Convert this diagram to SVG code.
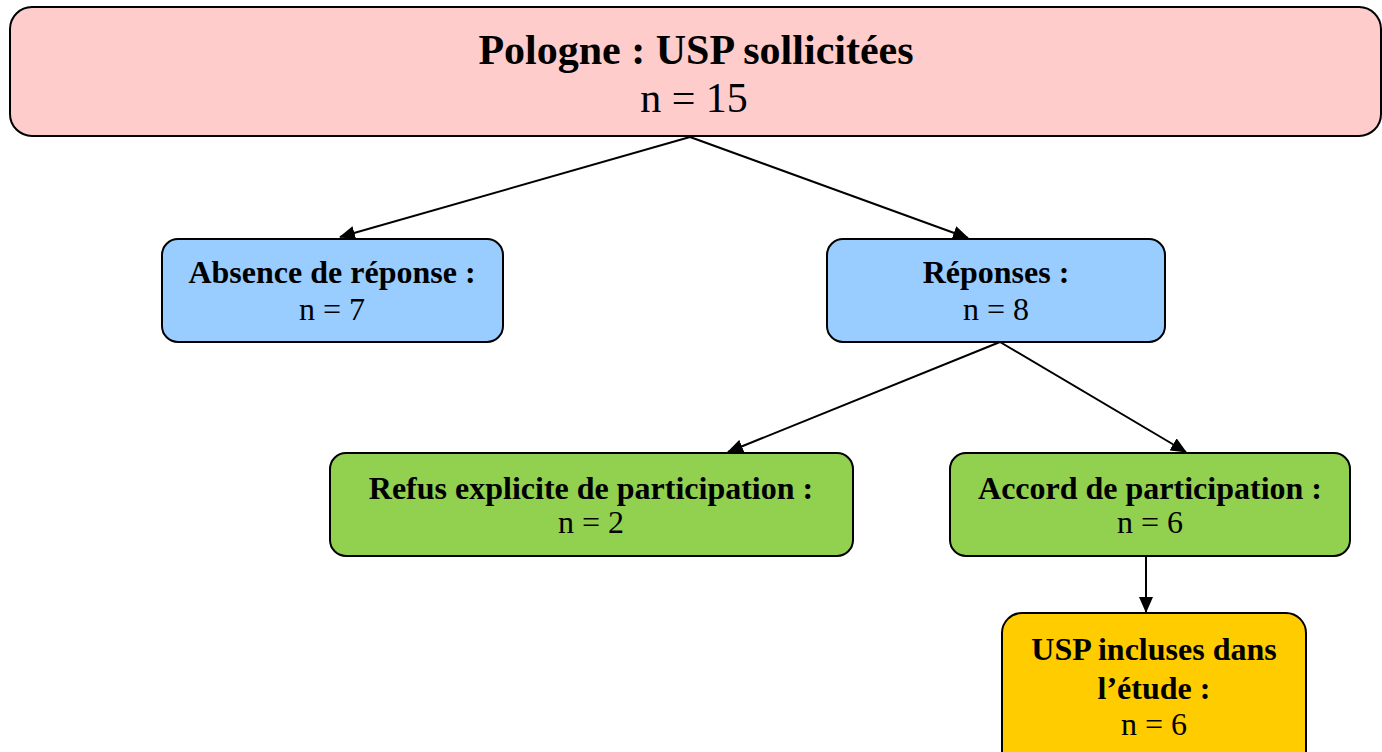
<svg xmlns="http://www.w3.org/2000/svg" width="1382" height="752" viewBox="0 0 1382 752">
<style>
.box{stroke:#000;stroke-width:2}
.t{font-family:"Liberation Serif",serif;text-anchor:middle;fill:#000}
.b{font-weight:bold}
.s{font-size:32px}
.l{font-size:42px}
.c{stroke:#000;stroke-width:2;fill:none;marker-end:url(#ah)}
</style>
<defs>
<marker id="ah" viewBox="0 0 16 14" refX="15" refY="7" markerWidth="16" markerHeight="14" markerUnits="userSpaceOnUse" orient="auto">
<path d="M0,0 L16,7 L0,14 z" fill="#000"/>
</marker>
</defs>
<rect width="1382" height="752" fill="#fff"/>
<g id="connectors">
<line class="c" x1="690" y1="137" x2="340" y2="237"/>
<line class="c" x1="690" y1="137" x2="968" y2="238"/>
<line class="c" x1="1000" y1="342" x2="728" y2="452"/>
<line class="c" x1="1000" y1="342" x2="1186" y2="452"/>
<line class="c" x1="1146" y1="556" x2="1146" y2="612"/>
</g>
<g id="n-top">
<rect class="box" x="10" y="7" width="1371" height="129" rx="22" fill="#FFCCCC"/>
<text class="t b l" x="696" y="64">Pologne : USP sollicitées</text>
<text class="t l" x="694" y="112">n = 15</text>
</g>
<g id="n-absence">
<rect class="box" x="162" y="239" width="341" height="103" rx="16" fill="#99CCFF"/>
<text class="t b s" x="332" y="283">Absence de réponse :</text>
<text class="t s" x="332" y="320">n = 7</text>
</g>
<g id="n-reponses">
<rect class="box" x="827" y="239" width="338" height="103" rx="16" fill="#99CCFF"/>
<text class="t b s" x="996" y="283">Réponses :</text>
<text class="t s" x="996" y="320">n = 8</text>
</g>
<g id="n-refus">
<rect class="box" x="330" y="453" width="523" height="103" rx="16" fill="#92D050"/>
<text class="t b s" x="591" y="499">Refus explicite de participation :</text>
<text class="t s" x="591" y="533">n = 2</text>
</g>
<g id="n-accord">
<rect class="box" x="950" y="453" width="400" height="103" rx="16" fill="#92D050"/>
<text class="t b s" x="1150" y="499">Accord de participation :</text>
<text class="t s" x="1150" y="533">n = 6</text>
</g>
<g id="n-usp">
<rect class="box" x="1002" y="613" width="304" height="160" rx="20" fill="#FFCC00"/>
<text class="t b s" x="1154" y="660">USP incluses dans</text>
<text class="t b s" x="1154" y="699">l’étude :</text>
<text class="t s" x="1154" y="735">n = 6</text>
</g>
</svg>
